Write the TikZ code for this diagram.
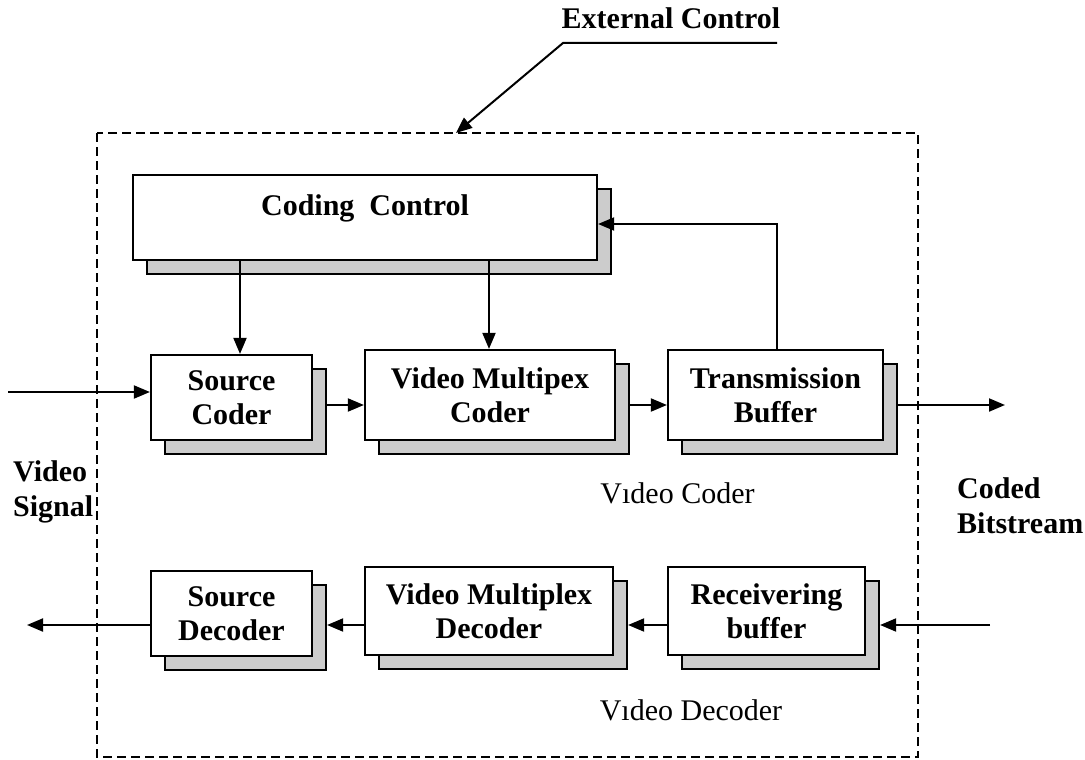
\documentclass[tikz,border=0pt]{standalone}
\usepackage{fontspec}
\setmainfont{Liberation Serif}
\usetikzlibrary{arrows.meta,shadows}
\tikzset{
  blk/.style={draw, line width=2.2pt, fill=white, font=\fontsize{30}{34}\selectfont\bfseries,
    align=center, inner sep=0pt,
    copy shadow={shadow xshift=14pt, shadow yshift=-14pt, fill=gray!40, draw=black, line width=2.4pt}},
  arr/.style={line width=2pt, -{Triangle[length=16pt,width=13pt]}},
  lbl/.style={font=\fontsize{30}{35}\selectfont\bfseries, align=left, inner sep=0pt},
  plaintxt/.style={font=\fontsize{30}{34}\selectfont, inner sep=0pt},
  dashbox/.style={line width=2.6pt, dash pattern=on 9pt off 5pt}
}
\begin{document}
\begin{tikzpicture}[x=1pt,y=-1pt]
\useasboundingbox (0,0) rectangle (1085,760);

% dashed frame
\draw[dashbox] (97,133) rectangle (918,757);

% title
\node[lbl] (ec) at (671,18) {External Control};
\coordinate (u1) at (777,43);
\coordinate (u2) at (563,43);
\coordinate (dbt) at (456,133);
\draw[arr] (u1) -- (u2) -- (dbt);

% blocks
\node[blk, minimum width=464pt, minimum height=85pt] (cc) at (365,217.5)
  {\raisebox{9pt}[\height][\depth]{Coding\ \ Control}};
\node[blk, minimum width=161pt, minimum height=85pt] (sc) at (231.5,397.5) {Source\\Coder};
\node[blk, minimum width=250pt, minimum height=90pt] (mc) at (490,395) {Video Multipex\\Coder};
\node[blk, minimum width=215pt, minimum height=90pt] (tb) at (775.5,395) {Transmission\\Buffer};
\node[blk, minimum width=197pt, minimum height=88pt] (rb) at (766.5,611) {Receivering\\buffer};
\node[blk, minimum width=248pt, minimum height=88pt] (md) at (489,611) {Video Multiplex\\Decoder};
\node[blk, minimum width=161pt, minimum height=85pt] (sd) at (231.5,613.5) {Source\\Decoder};

% shadow edge coordinates
\coordinate (scR) at ([xshift=14pt]sc.east);
\coordinate (mcR) at ([xshift=14pt]mc.east);
\coordinate (tbR) at ([xshift=14pt]tb.east);
\coordinate (rbR) at ([xshift=14pt]rb.east);
\coordinate (mdR) at ([xshift=14pt]md.east);
\coordinate (sdR) at ([xshift=14pt]sd.east);
\coordinate (r1) at (0,405);
\coordinate (r2) at (0,625);

% labels
\node[lbl, anchor=west] (vs) at (13,492) {Video\\Signal};
\node[lbl, anchor=west] (cb) at (957,506) {Coded\\Bitstream};
\node[plaintxt] (vc) at (677.5,493) {V\char"0131 deo Coder};
\node[plaintxt] (vd) at (691,710) {V\char"0131 deo Decoder};

% control arrows
\draw[arr] (cc.south -| 240,0) -- (sc.north -| 240,0);
\draw[arr] (cc.south -| 489,0) -- (mc.north -| 489,0);
\coordinate (fb) at (777,224);
\draw[arr] (tb.north -| fb) -- (fb) -- (cc.east |- fb);

% coder row
\coordinate (vin) at (8,392);
\draw[arr] (vin) -- (sc.west |- vin);
\draw[arr] (scR |- r1) -- (mc.west |- r1);
\draw[arr] (mcR |- r1) -- (tb.west |- r1);
\coordinate (cbout) at (1005,405);
\draw[arr] (tbR |- r1) -- (cbout);

% decoder row
\coordinate (cbin) at (990,625);
\coordinate (vout) at (27,625);
\draw[arr] (cbin) -- (rbR |- r2);
\draw[arr] (rb.west |- r2) -- (mdR |- r2);
\draw[arr] (md.west |- r2) -- (sdR |- r2);
\draw[arr] (sd.west |- r2) -- (vout);
\end{tikzpicture}
\end{document}
